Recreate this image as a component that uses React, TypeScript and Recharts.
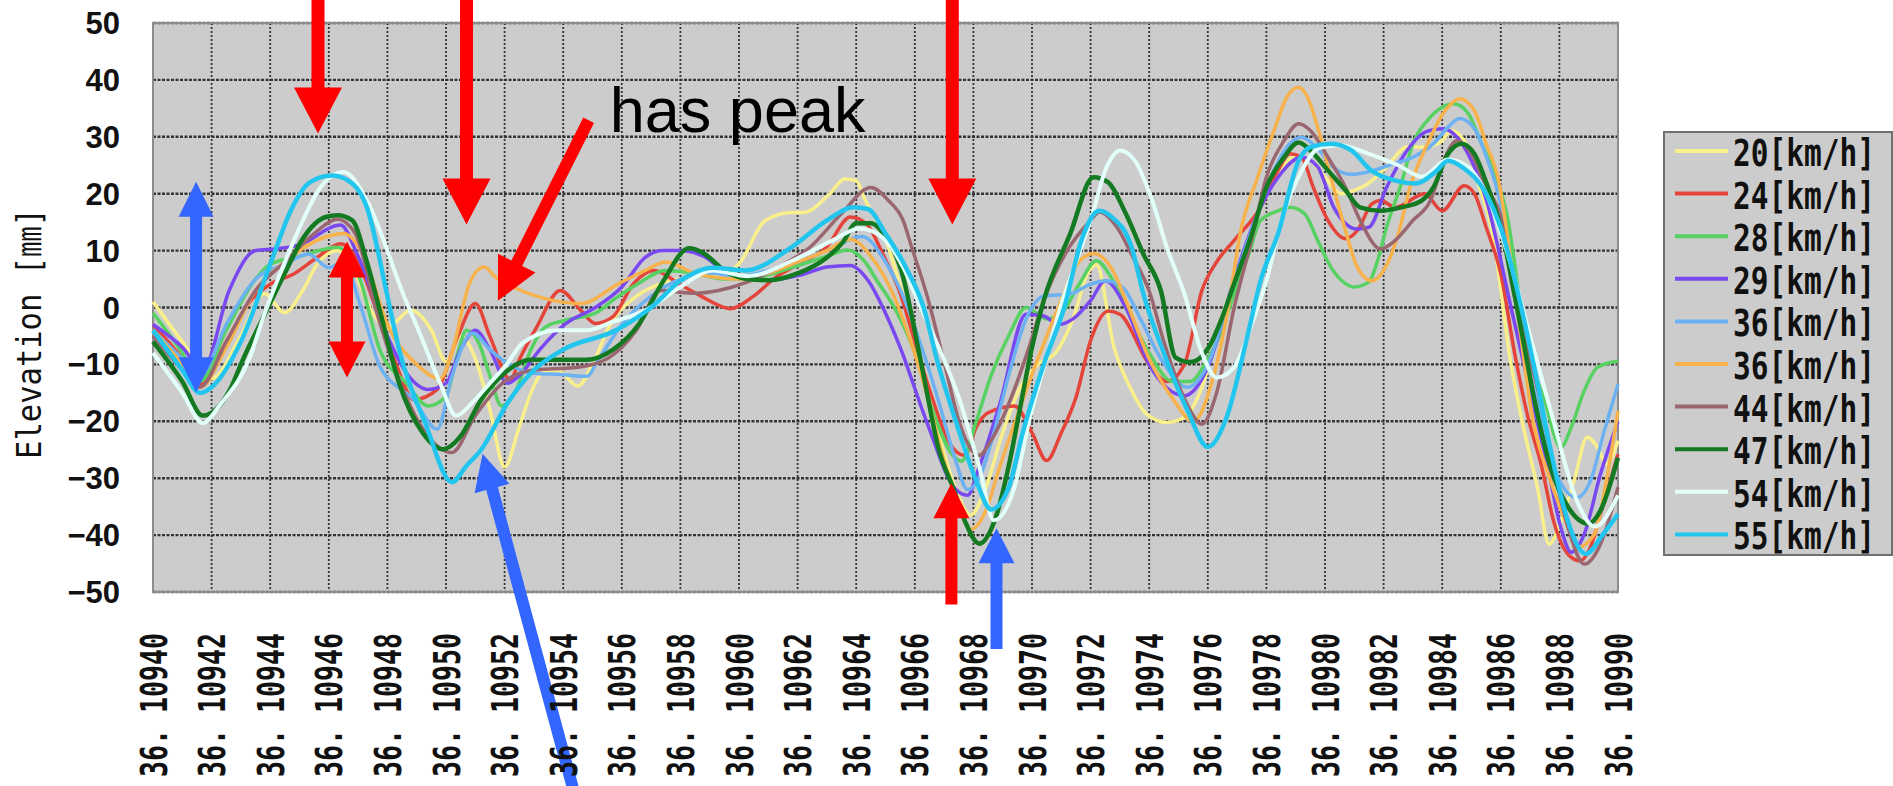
import React from 'react';
import {
  LineChart,
  Line,
  XAxis,
  YAxis,
  CartesianGrid,
  ReferenceArea,
  ReferenceLine,
  ReferenceDot,
  Legend,
} from 'recharts';

// tick labels (latitude 36.1094x, shown as "36. 10940")
const latPrefix = '36. ';
const xTicks = [10940, 10942, 10944, 10946, 10948, 10950, 10952, 10954, 10956, 10958, 10960, 10962, 10964,
  10966, 10968, 10970, 10972, 10974, 10976, 10978, 10980, 10982, 10984, 10986, 10988, 10990];
const yTicks = [-50, -40, -30, -20, -10, 0, 10, 20, 30, 40, 50];

// elevation [mm] per latitude, one list per run speed
const s20: [number, number][] = [[10940, 1], [10941, -6], [10942, -12.5], [10943, -5], [10943.8, 2.4], [10944.5, -0.9], [10945.1, 2.9], [10945.6, 7.6], [10946.3, 10], [10946.8, 7], [10947.5, -1], [10948, -3.5], [10948.8, -0.5], [10949.5, -4], [10950, -9.5], [10950.5, -5], [10951, -9], [10951.5, -18], [10952, -28], [10952.5, -21], [10952.9, -15], [10953.3, -11.5], [10953.8, -11], [10954.5, -13.8], [10955, -10], [10955.6, -3], [10956.5, 2], [10957.5, 4.5], [10958.5, 5.5], [10959.5, 6], [10960, 7.7], [10960.9, 15.3], [10961.8, 16.7], [10962.2, 16.7], [10963.1, 20], [10963.6, 22.6], [10964, 22.3], [10964.3, 19], [10965, 12], [10965.6, 2], [10966.2, -10], [10966.8, -22], [10967.4, -32], [10967.9, -36.5], [10968.4, -32], [10969, -22], [10969.6, -14], [10970.2, -10], [10970.8, -8], [10971.4, -2], [10971.9, 6], [10972.2, 7.5], [10972.8, -7], [10973.4, -14.6], [10973.9, -18.7], [10974.6, -20.2], [10975.2, -19.3], [10975.8, -14], [10976.4, -3], [10977.25, 9.4], [10977.8, 17.6], [10978.4, 23.5], [10978.95, 26.4], [10979.5, 25.8], [10980, 22.9], [10980.55, 20], [10981, 20.6], [10981.45, 21.7], [10982.1, 24.7], [10982.8, 28.2], [10983.4, 28.2], [10984, 29.3], [10984.3, 31.1], [10984.75, 29.3], [10985.2, 22.3], [10985.7, 13.5], [10986.35, -10], [10986.8, -21.7], [10987.25, -31.6], [10987.65, -41.6], [10988.05, -37.5], [10988.5, -30.5], [10988.95, -22.8], [10989.3, -24.6], [10989.6, -27.5], [10990, -23.4]];
const s24: [number, number][] = [[10940, -3], [10941, -9], [10941.6, -13.5], [10942.5, -6], [10943.3, 1], [10944, 4.1], [10944.8, 5.9], [10945.6, 8.8], [10946.4, 11.2], [10947, 8], [10947.6, 0], [10948.3, -10], [10948.9, -16.2], [10949.7, -14.4], [10950.4, -5.1], [10951, 0.7], [10951.5, -5.1], [10952.2, -12.7], [10952.5, -9.2], [10953.1, -3.4], [10953.9, 3], [10954.6, -0.5], [10955.1, -2.8], [10955.7, -1.6], [10956.4, 4.2], [10957.1, 6.5], [10958, 4], [10958.7, 2], [10959.7, -0.2], [10960.5, 2], [10961.3, 5.5], [10961.85, 7.1], [10963, 10.7], [10963.8, 15.9], [10964.35, 14.7], [10964.9, 9.5], [10965.5, 2.5], [10966, -6], [10966.6, -16], [10967.2, -24], [10967.7, -26], [10968.1, -21], [10968.5, -18.5], [10969.4, -17.3], [10970, -22], [10970.5, -26.9], [10971, -22], [10971.5, -15.8], [10972, -5.8], [10972.6, -0.6], [10973, -1.2], [10974, -10], [10974.6, -13], [10975.2, -10], [10975.8, 3], [10976.3, 8], [10976.9, 11.8], [10977.8, 17.6], [10978.4, 24.1], [10978.8, 27], [10979.2, 26.4], [10979.6, 21.1], [10980.1, 15.3], [10980.7, 12.1], [10981.1, 13.5], [10981.6, 18.2], [10981.9, 18.8], [10982.4, 17.6], [10983.4, 20], [10984, 17], [10984.75, 21.4], [10985.1, 20], [10985.5, 14.1], [10986, 5.9], [10986.5, -8.8], [10986.9, -18.7], [10987.4, -28.1], [10987.8, -37.5], [10988.3, -43.4], [10988.7, -44.5], [10989.1, -41.6], [10989.4, -36.3], [10990, -25.8]];
const s28: [number, number][] = [[10940, -1], [10941, -8], [10941.6, -13], [10942.5, -4], [10943.5, 5], [10944, 7.6], [10945, 9], [10946.3, 10.6], [10947, 5.9], [10947.74, -7.4], [10948.65, -13.3], [10949.4, -17.3], [10950, -15.6], [10950.4, -8], [10950.7, -4], [10951.1, -6], [10951.5, -12], [10951.9, -17.3], [10952.4, -14.4], [10952.9, -7.4], [10953.4, -3.4], [10954.1, -2.2], [10955.1, -1], [10955.7, 1.3], [10956.5, 4], [10957.5, 6.5], [10958.5, 6], [10959.5, 5], [10960.7, 5.4], [10961.85, 7.1], [10963, 9], [10963.7, 10.1], [10964.3, 8], [10964.7, 4.8], [10965.3, 0], [10966, -8], [10966.6, -18], [10967.3, -26], [10967.6, -27], [10968.1, -20], [10968.6, -12], [10969.2, -5], [10969.8, 0], [10970.5, -2], [10971, -1], [10971.6, 4], [10972.2, 8.2], [10972.7, 5.3], [10973.3, -1], [10974, -8], [10974.8, -13], [10975.4, -13], [10976, -9], [10976.4, -5], [10976.9, 2.4], [10977.4, 9.4], [10977.8, 15.3], [10978.4, 17], [10978.8, 17.6], [10979.3, 16.5], [10979.75, 11.8], [10980.2, 7.1], [10980.7, 4.2], [10981, 3.6], [10981.5, 4.5], [10981.8, 8.3], [10982.1, 14.1], [10982.6, 21.7], [10983, 28.8], [10983.5, 32.9], [10984, 35.2], [10984.4, 35.8], [10984.9, 34], [10985.3, 29.3], [10985.8, 23.5], [10986.2, 16.5], [10986.9, -7], [10987.5, -16.4], [10988.05, -24.6], [10988.4, -21.1], [10988.85, -14.6], [10989.3, -10.5], [10990, -9.4]];
const s29: [number, number][] = [[10940, -3], [10941, -7], [10941.7, -11], [10942.6, 3], [10943.5, 10], [10944.2, 10.3], [10945, 11], [10946.4, 14.5], [10947, 9], [10948, -5], [10948.65, -11.5], [10949.4, -14.4], [10950, -13.3], [10950.5, -7.4], [10951, -4], [10951.5, -7.4], [10952.1, -13.3], [10952.5, -12], [10953.2, -7.4], [10954.1, -2.8], [10955.1, 0], [10956, 3.6], [10956.8, 8.8], [10957.4, 10], [10958, 10], [10958.8, 9], [10959.8, 5.4], [10960.9, 4.8], [10962.1, 5.7], [10963, 7.1], [10963.8, 7.4], [10964.4, 4.8], [10965, -1], [10965.5, -7], [10966.4, -20], [10967.4, -32], [10967.8, -33], [10968.2, -28], [10968.9, -17], [10969.8, -1.2], [10970.4, -1.5], [10970.9, -3], [10971.4, -2], [10972, 1.2], [10972.5, 4.7], [10973.2, 0], [10974, -10], [10975.2, -15.5], [10976, -10.5], [10976.9, 5], [10977.7, 16.5], [10978.4, 22.9], [10979.2, 26.4], [10979.75, 24.7], [10980.3, 17.6], [10981.1, 13.8], [10981.5, 14.1], [10982.1, 21.1], [10982.8, 27.6], [10983.5, 31], [10984, 31.4], [10984.4, 30.5], [10985, 25.8], [10985.5, 19], [10986.35, 0], [10987.1, -17], [10987.6, -28], [10988.05, -38.7], [10988.4, -43], [10988.85, -39.8], [10989.4, -29.3], [10990, -20]];
const s36a: [number, number][] = [[10940, -4], [10941, -9], [10941.6, -12], [10942.5, -3], [10943.5, 5], [10944.5, 7.6], [10945.3, 9.4], [10946, 7], [10946.5, 8], [10947.1, 0], [10947.74, -10.3], [10948.9, -16.2], [10949.7, -21.4], [10950.2, -12.1], [10950.9, -4.5], [10951.5, -7.4], [10952.1, -9.8], [10952.9, -11.5], [10954, -11.8], [10954.8, -12.1], [10955.2, -9.2], [10956, -3], [10957, 2], [10958, 5], [10959, 6], [10960, 5.5], [10961, 6.5], [10962, 8], [10963, 10], [10964.2, 12.5], [10965, 8], [10965.6, 2], [10966.3, -8], [10966.9, -18], [10967.4, -27], [10967.8, -32], [10968.2, -30], [10968.7, -22], [10969.2, -12], [10969.8, -2], [10970.4, 2], [10971.3, 2.4], [10972, 4.1], [10972.5, 4.7], [10973.1, 3.5], [10973.7, -2], [10974.4, -9], [10975.3, -14], [10976, -10], [10976.8, 3], [10977.7, 16.5], [10978.3, 24.6], [10978.8, 28.8], [10979.2, 29.9], [10979.7, 28.2], [10980.3, 24.6], [10980.9, 23.4], [10981.6, 24], [10982.3, 25.2], [10983, 26.4], [10983.7, 28.8], [10984.2, 31.7], [10984.6, 33.2], [10985.1, 31.4], [10985.5, 26.6], [10986, 18], [10986.5, 2], [10987, -11.7], [10987.5, -21.7], [10987.9, -29.3], [10988.6, -33.4], [10989.1, -29.9], [10989.5, -22.3], [10990, -13.5]];
const s36b: [number, number][] = [[10940, -4], [10941, -10], [10941.6, -14], [10942.5, -7], [10943.5, 3], [10944.5, 8], [10945.6, 11.8], [10946.5, 13], [10947.2, 9], [10948, -3], [10949, -10], [10949.8, -12.5], [10950.2, -8], [10950.8, 4.2], [10951.3, 7.1], [10951.7, 5.3], [10952.3, 3.6], [10953.6, 1.3], [10954.6, 0.7], [10955.9, 4.2], [10956.8, 6.5], [10957.5, 8], [10958.5, 6], [10960, 5], [10961, 6], [10962, 8], [10963, 10], [10963.8, 12], [10964.5, 9], [10965.2, 3], [10965.8, -5], [10966.4, -15], [10967, -27], [10967.5, -35], [10967.9, -39], [10968.4, -36], [10968.9, -28], [10969.5, -19], [10970.2, -9], [10970.9, 0], [10971.6, 8], [10972.1, 9.5], [10972.7, 7], [10973.3, 0], [10974, -9], [10974.8, -16], [10975.5, -20], [10976.2, -12], [10976.7, 0], [10977.1, 12.9], [10977.7, 22.9], [10978.3, 31.7], [10978.7, 37], [10979.1, 38.7], [10979.4, 37], [10979.75, 31.7], [10980.2, 22.9], [10980.7, 13.5], [10981.1, 7.1], [10981.6, 4.7], [10982, 6.5], [10982.5, 12.9], [10982.9, 21.1], [10983.5, 28.8], [10984.1, 34.6], [10984.6, 36.7], [10985.1, 34.6], [10985.5, 28.8], [10985.9, 22.9], [10986.5, 2], [10987.1, -19.9], [10987.7, -30.5], [10988.3, -38.7], [10988.6, -42.2], [10989.2, -39.8], [10989.6, -30.5], [10990, -18.2]];
const s44: [number, number][] = [[10940, -5], [10941, -11], [10941.6, -14], [10942.5, -6], [10943.5, 3], [10944.5, 8], [10945.5, 13], [10946.3, 15.5], [10946.9, 13], [10947.7, -2], [10948.5, -14], [10949.3, -22], [10950.2, -25.5], [10951, -19], [10952, -13], [10953, -11], [10954.5, -10.5], [10955.5, -9], [10956.5, -4], [10957.3, 3], [10958.4, 2.5], [10959.3, 3], [10960.3, 4.5], [10961.3, 7], [10962.4, 10.5], [10963.5, 16.5], [10964.5, 21.1], [10965.1, 18.8], [10965.6, 15.3], [10965.9, 10.5], [10966.4, 2.4], [10967.1, -11.7], [10967.5, -19.9], [10968.2, -26], [10968.6, -23.4], [10969.2, -17], [10969.9, -7], [10970.4, 1.2], [10971.2, 10], [10972, 15.3], [10972.3, 16.8], [10972.9, 14.1], [10973.45, 8.8], [10974, 2.9], [10974.5, -6], [10975.2, -16], [10975.8, -20.5], [10976.3, -15], [10976.9, 0], [10977.5, 12], [10978, 22.9], [10978.6, 29.3], [10979.1, 32.3], [10979.5, 31.1], [10980.1, 26.4], [10980.7, 21.1], [10981.2, 15.3], [10981.9, 10.3], [10982.4, 11.8], [10983, 15.3], [10983.6, 18.8], [10984.1, 26.4], [10984.5, 29.3], [10985, 27], [10985.5, 21.1], [10986, 15.9], [10986.35, 4.7], [10986.9, -7], [10987.4, -17.6], [10987.8, -28.1], [10988.3, -38.7], [10988.85, -45.1], [10989.4, -41.6], [10990, -31.6]];
const s47: [number, number][] = [[10940, -6], [10941, -13], [10941.7, -19], [10942.6, -14.7], [10943.1, -8.8], [10943.7, -2.4], [10944.5, 6], [10945.1, 12], [10945.9, 15.9], [10946.3, 16.2], [10946.8, 15.3], [10947.3, 8], [10947.74, -0.5], [10948.4, -13.3], [10949.2, -22], [10949.9, -24.9], [10950.5, -22.6], [10951.2, -16.2], [10952, -11.5], [10952.9, -9.2], [10954.8, -9.2], [10955.7, -7.4], [10956.6, -2.8], [10957.4, 4.5], [10958.3, 10.4], [10958.8, 9.5], [10959.5, 6.5], [10960.3, 5], [10961, 4.8], [10962, 6], [10963, 8.8], [10963.55, 11.5], [10964, 14.8], [10964.5, 14.8], [10965, 12.4], [10965.6, 5.4], [10966, -4.1], [10966.4, -14.6], [10966.8, -24.6], [10967.3, -31.6], [10967.7, -37.4], [10968.2, -41.5], [10968.8, -36.3], [10969.2, -28], [10969.6, -17.5], [10970, -7], [10970.4, 1.2], [10971.3, 12.9], [10972.1, 22.9], [10972.6, 22], [10973.2, 16.5], [10973.8, 9.4], [10974.4, 2.9], [10974.9, -8.8], [10975.4, -9.6], [10976.1, -6.4], [10976.45, -2.3], [10976.9, 4.2], [10977.5, 12.9], [10978, 21.1], [10978.6, 26.4], [10979.1, 29], [10979.5, 27.6], [10980.1, 24.1], [10980.7, 20.6], [10981.2, 17.6], [10981.9, 17], [10982.6, 17.6], [10983.3, 18.8], [10983.7, 21.1], [10984.2, 27], [10984.65, 28.8], [10985.1, 27], [10985.5, 22], [10986, 14], [10986.7, -4], [10987.1, -15], [10987.7, -28.1], [10988.3, -35.1], [10989, -38], [10989.4, -35.7], [10990, -26.4]];
const s54: [number, number][] = [[10940, -8], [10941, -15], [10941.7, -20.3], [10942.3, -17], [10943.3, -8.8], [10943.8, -1.2], [10944.5, 8], [10945, 14], [10945.7, 21], [10946.5, 23.8], [10947.3, 18.8], [10948, 10], [10948.4, 4.2], [10949.1, -4.5], [10949.8, -13.3], [10950.35, -19], [10950.9, -16.7], [10951.5, -13.3], [10952.1, -9.8], [10952.6, -6.3], [10953.8, -4], [10954.8, -4], [10955.7, -2.5], [10956.8, -0.5], [10958, 3.6], [10959.1, 6.5], [10960.3, 5.5], [10961.85, 8.3], [10963.2, 11.8], [10964.1, 13.9], [10964.8, 12.7], [10965.6, 7.1], [10966.2, 0], [10966.9, -8], [10967.5, -15.8], [10968.2, -28], [10968.7, -37.4], [10969.4, -31.6], [10969.9, -20], [10970.5, -8.8], [10971, 0.6], [10971.5, 8], [10972, 15.3], [10972.55, 24.7], [10973, 27.6], [10973.5, 25.9], [10974.1, 18.8], [10974.6, 10.6], [10975.2, 2.4], [10975.8, -8], [10976.3, -12.3], [10976.9, -10.5], [10977.5, -2.9], [10978, 4.7], [10978.5, 15], [10979.2, 24], [10979.8, 28], [10980.5, 28.5], [10981.5, 27], [10982.5, 25], [10983.3, 23], [10984.2, 26], [10984.8, 25], [10985.5, 20], [10986.2, 10], [10987, -5], [10987.8, -20], [10988.6, -34], [10989.2, -38.5], [10990, -33]];
const s55: [number, number][] = [[10940, -4], [10941, -11], [10941.6, -15], [10942, -14], [10943, -6], [10944.1, 9], [10944.7, 17], [10945.35, 22], [10946.1, 23.2], [10946.6, 22.5], [10947.3, 17.6], [10948, 2], [10948.4, -7.4], [10949.3, -20.4], [10950.2, -30.7], [10950.7, -27.8], [10951.2, -25], [10952.1, -16.8], [10952.9, -11.5], [10954, -7.4], [10955.8, -4], [10957, 0], [10958, 4.7], [10959.1, 7], [10960.2, 6.5], [10961.8, 10.6], [10963, 15.3], [10963.9, 17.6], [10964.4, 17.3], [10965, 13], [10965.7, 7], [10966.3, 0], [10966.8, -10], [10967.4, -20], [10968.1, -30.5], [10968.6, -35.5], [10969.2, -31.7], [10969.7, -21.7], [10970.4, -10], [10971.1, 0], [10971.7, 12], [10972.3, 17], [10972.7, 16], [10973.4, 10.6], [10973.8, 2.4], [10974.5, -8], [10975.3, -18], [10976, -24.5], [10976.6, -19.9], [10977.4, -4], [10977.8, 4.7], [10978.4, 13], [10979.1, 25.8], [10979.5, 28.2], [10980.2, 28.8], [10980.9, 27.6], [10981.6, 24], [10982.4, 22.3], [10983.1, 21.8], [10983.8, 24], [10984.2, 25.8], [10984.7, 24.6], [10985.5, 20], [10986, 14], [10986.7, 0], [10987.2, -12], [10987.7, -25], [10988.2, -36], [10988.9, -43.3], [10989.5, -39.8], [10990, -36.3]];

const series = [
  { name: '20[km/h]', color: '#f9f08c', width: 3.5, pts: s20 },
  { name: '24[km/h]', color: '#e5443a', width: 3.5, pts: s24 },
  { name: '28[km/h]', color: '#56d162', width: 3.5, pts: s28 },
  { name: '29[km/h]', color: '#7a48f0', width: 3.5, pts: s29 },
  { name: '36[km/h]', color: '#6cb2f2', width: 3.5, pts: s36a },
  { name: '36[km/h]', color: '#f7b24c', width: 3.5, pts: s36b },
  { name: '44[km/h]', color: '#9a6670', width: 3.5, pts: s44 },
  { name: '47[km/h]', color: '#137a22', width: 4.5, pts: s47 },
  { name: '54[km/h]', color: '#e2fff9', width: 4, pts: s54 },
  { name: '55[km/h]', color: '#22c5ee', width: 4.5, pts: s55 },
];

const RED = '#ff0000';
const BLUE = '#3366ff';

// annotation arrows, in chart units (latitude, mm)
const arrows = [
  { x1: 10945.63, y1: 56, x2: 10945.63, y2: 30.6, color: RED, shaft: 13, head: 46, headW: 48, both: false },
  { x1: 10950.7, y1: 56, x2: 10950.7, y2: 14.6, color: RED, shaft: 13, head: 46, headW: 48, both: false },
  { x1: 10967.28, y1: 56, x2: 10967.28, y2: 14.6, color: RED, shaft: 13, head: 46, headW: 48, both: false },
  { x1: 10946.62, y1: 11.6, x2: 10946.62, y2: -12.3, color: RED, shaft: 12, head: 36, headW: 37, both: true },
  { x1: 10967.25, y1: -52.2, x2: 10967.25, y2: -30.9, color: RED, shaft: 12, head: 35, headW: 36, both: false },
  { x1: 10941.47, y1: 22.1, x2: 10941.47, y2: -14.9, color: BLUE, shaft: 12, head: 35, headW: 35, both: true },
  { x1: 10968.79, y1: -60, x2: 10968.79, y2: -38.8, color: BLUE, shaft: 12, head: 35, headW: 36, both: false },
  { x1: 10954.87, y1: 32.9, x2: 10951.77, y2: 1.2, color: RED, shaft: 12, head: 42, headW: 42, both: false },
  { x1: 10954.36, y1: -85, x2: 10951.25, y2: -25.7, color: BLUE, shaft: 12, head: 36, headW: 36, both: false },
];

const note = { x: 10955.59, y: 30.9, text: 'has peak' };

function arrowPoints(x1: number, y1: number, x2: number, y2: number, shaft: number, head: number, headW: number, both: boolean) {
  const len = Math.hypot(x2 - x1, y2 - y1) || 1;
  const ux = (x2 - x1) / len;
  const uy = (y2 - y1) / len;
  const nx = -uy;
  const ny = ux;
  const hs = shaft / 2;
  const hh = headW / 2;
  const p = (a: number, b: number) => `${a.toFixed(1)},${b.toFixed(1)}`;
  const bx = x2 - ux * head;
  const by = y2 - uy * head;
  if (both) {
    const ax = x1 + ux * head;
    const ay = y1 + uy * head;
    return [
      p(x1, y1), p(ax + nx * hh, ay + ny * hh), p(ax + nx * hs, ay + ny * hs), p(bx + nx * hs, by + ny * hs),
      p(bx + nx * hh, by + ny * hh), p(x2, y2), p(bx - nx * hh, by - ny * hh), p(bx - nx * hs, by - ny * hs),
      p(ax - nx * hs, ay - ny * hs), p(ax - nx * hh, ay - ny * hh),
    ].join(' ');
  }
  return [
    p(x1 + nx * hs, y1 + ny * hs), p(bx + nx * hs, by + ny * hs), p(bx + nx * hh, by + ny * hh), p(x2, y2),
    p(bx - nx * hh, by - ny * hh), p(bx - nx * hs, by - ny * hs), p(x1 - nx * hs, y1 - ny * hs),
  ].join(' ');
}

const monoFont = "'DejaVu Sans Mono', 'Noto Sans CJK JP', monospace";

// narrow, tall monospace look: normal advance, stretched across the line
function XTick({ x, y, payload }: any) {
  return (
    <g transform={`translate(${x},${y + 185}) rotate(-90) scale(1,1.42)`}>
      <text textAnchor="start" dy="0.36em" fontSize={26.6} fontWeight="bold" fontFamily={monoFont} fill="#111">
        {`${latPrefix}${payload.value}`}
      </text>
    </g>
  );
}

function YTitle({ viewBox }: any) {
  const cx = viewBox.x - 24;
  const cy = viewBox.y + viewBox.height / 2 + 26;
  return (
    <g transform={`translate(${cx},${cy}) rotate(-90) scale(1,1.12)`}>
      <text textAnchor="middle" dy="0.36em" fontSize={30.5} fontFamily={monoFont} fill="#111">
        Elevation [㎜]
      </text>
    </g>
  );
}

function LegendBox() {
  return (
    <svg width={230} height={436} style={{ display: 'block', overflow: 'visible' }}>
      <rect x={1} y={1} width={228} height={423} fill="#cccccc" stroke="#707070" strokeWidth={2} />
      {series.map((s, i) => {
        const ly = 20 + i * 42.6;
        return (
          <g key={i}>
            <line x1={12} x2={65} y1={ly} y2={ly} stroke={s.color} strokeWidth={4} />
            <g transform={`translate(70,${ly + 15}) scale(1,1.27)`}>
              <text x={0} y={0} fontSize={29.5} fontWeight="bold" fontFamily={monoFont} fill="#111">
                {s.name}
              </text>
            </g>
          </g>
        );
      })}
    </svg>
  );
}

export default function App() {
  return (
    <div style={{ position: 'absolute', left: 0, top: 0, width: 1893, height: 786, background: '#fff', overflow: 'hidden' }}>
      <LineChart width={1893} height={786} margin={{ top: 23, right: 275, bottom: 0, left: 53 }}>
        <CartesianGrid vertical={false} fill="#cccccc" stroke="#333333" strokeWidth={2.4} strokeDasharray="3 1.5" />
        <CartesianGrid horizontal={false} stroke="#333333" strokeWidth={1.8} strokeDasharray="2 2" />
        <XAxis
          type="number"
          dataKey="x"
          domain={[10940, 10990]}
          ticks={xTicks}
          interval={0}
          height={194}
          axisLine={false}
          tickLine={false}
          tickSize={0}
          tickMargin={0}
          tick={<XTick />}
        />
        <YAxis
          type="number"
          domain={[-50, 50]}
          ticks={yTicks}
          interval={0}
          width={100}
          axisLine={false}
          tickLine={false}
          tickSize={0}
          tickMargin={33}
          tickFormatter={(v: number) => (v < 0 ? `\u2212${-v}` : `${v}`)}
          tick={{ fontSize: 31, fontWeight: 'bold', fill: '#111', fontFamily: "'Liberation Sans', Arial, sans-serif" }}
          label={{ content: (p: any) => <YTitle viewBox={p.viewBox} /> }}
        />
        <ReferenceArea
          x1={10940}
          x2={10990}
          y1={-50}
          y2={50}
          fill="none"
          fillOpacity={0}
          stroke="#8c8c8c"
          strokeWidth={2}
          ifOverflow="visible"
        />
        {series.map((s, i) => (
          <Line
            key={i}
            name={s.name}
            data={s.pts.map(([x, y]) => ({ x, y }))}
            dataKey="y"
            type="monotone"
            stroke={s.color}
            strokeWidth={s.width}
            dot={false}
            activeDot={false}
            isAnimationActive={false}
          />
        ))}
        {arrows.map((a, i) => (
          <ReferenceLine
            key={`arrow-${i}`}
            segment={[{ x: a.x1, y: a.y1 }, { x: a.x2, y: a.y2 }]}
            ifOverflow="visible"
            zIndex={1500}
            shape={(p: any) => (
              <polygon
                points={arrowPoints(p.x1, p.y1, p.x2, p.y2, a.shaft, a.head, a.headW, a.both)}
                fill={a.color}
                stroke="none"
              />
            )}
          />
        ))}
        <ReferenceDot
          x={note.x}
          y={note.y}
          r={0}
          ifOverflow="visible"
          zIndex={1500}
          shape={(p: any) => (
            <text x={p.cx} y={p.cy} fontSize={63} fontFamily="'Liberation Sans', Arial, sans-serif" fill="#000">
              {note.text}
            </text>
          )}
        />
        <Legend
          layout="vertical"
          align="center"
          verticalAlign="middle"
          wrapperStyle={{ left: 1663, top: 131, width: 230, height: 436 }}
          content={() => <LegendBox />}
        />
      </LineChart>
    </div>
  );
}
